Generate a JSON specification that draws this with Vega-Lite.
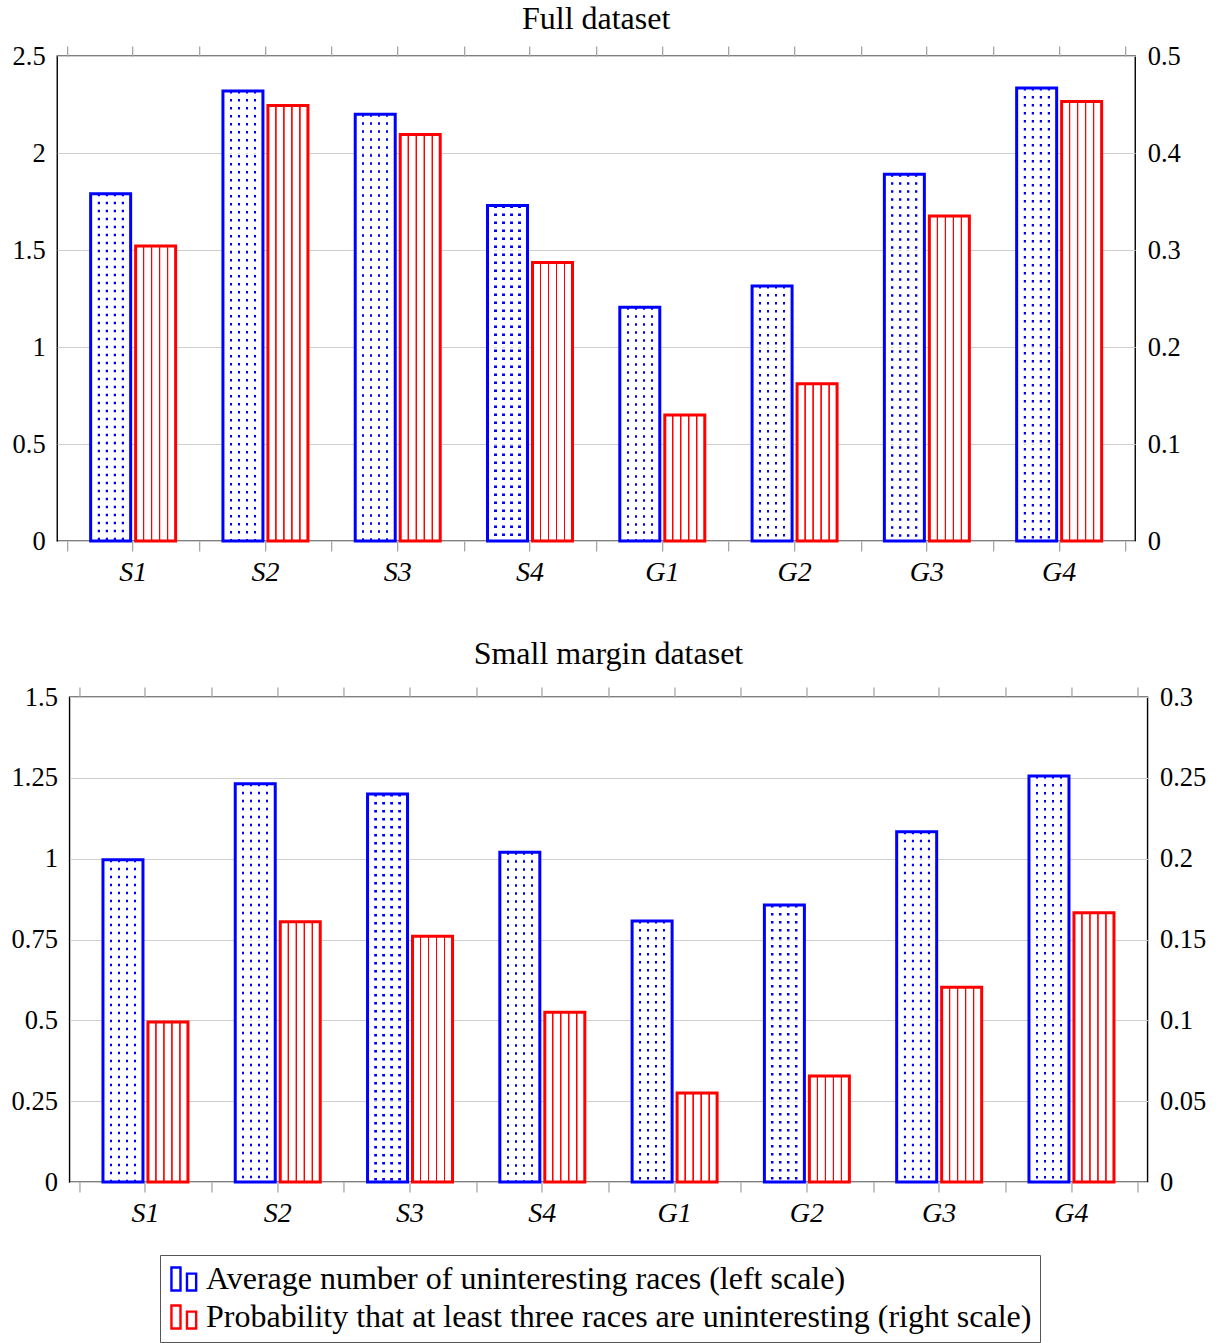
{
  "$schema": "https://vega.github.io/schema/vega-lite/v6.json",
  "padding": {"left": 10, "top": 2, "right": 0, "bottom": 0},
  "background": "white",
  "data": {"values": [
    {"panel": "full", "cat": "S1", "avg": 1.79, "prob": 0.304},
    {"panel": "full", "cat": "S2", "avg": 2.32, "prob": 0.449},
    {"panel": "full", "cat": "S3", "avg": 2.2, "prob": 0.419},
    {"panel": "full", "cat": "S4", "avg": 1.73, "prob": 0.287},
    {"panel": "full", "cat": "G1", "avg": 1.205, "prob": 0.13},
    {"panel": "full", "cat": "G2", "avg": 1.315, "prob": 0.162},
    {"panel": "full", "cat": "G3", "avg": 1.89, "prob": 0.335},
    {"panel": "full", "cat": "G4", "avg": 2.335, "prob": 0.453},
    {"panel": "small", "cat": "S1", "avg": 0.997, "prob": 0.099},
    {"panel": "small", "cat": "S2", "avg": 1.232, "prob": 0.161},
    {"panel": "small", "cat": "S3", "avg": 1.2, "prob": 0.152},
    {"panel": "small", "cat": "S4", "avg": 1.02, "prob": 0.105},
    {"panel": "small", "cat": "G1", "avg": 0.807, "prob": 0.055},
    {"panel": "small", "cat": "G2", "avg": 0.857, "prob": 0.0655},
    {"panel": "small", "cat": "G3", "avg": 1.083, "prob": 0.1205},
    {"panel": "small", "cat": "G4", "avg": 1.256, "prob": 0.1665}
  ]},
  "vconcat": [
    {
      "title": {"text": "Full dataset", "offset": 7},
      "width": 1078,
      "height": 485,
      "transform": [{"filter": "datum.panel === 'full'"}],
      "layer": [
        {
          "mark": {"type": "rule", "strokeWidth": 38, "color": "#0000ff", "strokeDash": [2.5, 5.5]},
          "encoding": {
            "x": {"field": "cat", "type": "nominal", "sort": null, "scale": {"paddingInner": 0, "paddingOuter": 0.0745},
              "axis": {"orient": "bottom", "title": null, "labelFontStyle": "italic", "labelFontSize": 28, "tickSize": 10, "tickBand": "center", "labelPadding": 7, "labelAngle": 0, "grid": false}},
            "xOffset": {"datum": "avg", "scale": {"domain": ["avg", "prob"], "paddingInner": 0.111, "paddingOuter": 0.5255}},
            "y": {"field": "avg", "type": "quantitative", "scale": {"domain": [0, 2.5], "nice": false, "zero": true},
              "axis": {"orient": "left", "title": null, "values": [0, 0.5, 1, 1.5, 2, 2.5], "labelExpr": "'' + datum.value", "ticks": false, "labelPadding": 12, "grid": true}},
            "y2": {"datum": 0}
          }
        },
        {
          "mark": {"type": "bar", "strokeWidth": 3, "fill": {"gradient": "linear", "x1": 0, "y1": 0, "x2": 1, "y2": 0, "stops": [
            {"offset": 0, "color": "#ffffff"}, {"offset": 0.17, "color": "#ffffff"}, {"offset": 0.175, "color": "rgba(255,255,255,0)"}, {"offset": 0.225, "color": "rgba(255,255,255,0)"}, {"offset": 0.23, "color": "#ffffff"},
            {"offset": 0.37, "color": "#ffffff"}, {"offset": 0.375, "color": "rgba(255,255,255,0)"}, {"offset": 0.425, "color": "rgba(255,255,255,0)"}, {"offset": 0.43, "color": "#ffffff"},
            {"offset": 0.57, "color": "#ffffff"}, {"offset": 0.575, "color": "rgba(255,255,255,0)"}, {"offset": 0.625, "color": "rgba(255,255,255,0)"}, {"offset": 0.63, "color": "#ffffff"},
            {"offset": 0.77, "color": "#ffffff"}, {"offset": 0.775, "color": "rgba(255,255,255,0)"}, {"offset": 0.825, "color": "rgba(255,255,255,0)"}, {"offset": 0.83, "color": "#ffffff"},
            {"offset": 1, "color": "#ffffff"}]}},
          "encoding": {
            "x": {"field": "cat", "type": "nominal", "sort": null,
              "axis": {"orient": "top", "title": null, "labels": false, "tickSize": 10, "tickBand": "center", "grid": false}},
            "xOffset": {"datum": "avg"},
            "y": {"field": "avg", "type": "quantitative", "scale": {"domain": [0, 2.5], "nice": false, "zero": true}, "axis": null},
            "stroke": {"datum": "Average number of uninteresting races (left scale)",
              "scale": {"domain": ["Average number of uninteresting races (left scale)", "Probability that at least three races are uninteresting (right scale)"], "range": ["#0000ff", "#ff0000"]},
              "legend": {"title": null, "orient": "none", "legendX": 103, "legendY": 1199}}
          }
        },
        {
          "mark": {"type": "bar", "strokeWidth": 3, "fill": {"gradient": "linear", "x1": 0, "y1": 0, "x2": 1, "y2": 0, "stops": [
            {"offset": 0, "color": "#ffffff"}, {"offset": 0.175, "color": "#ffffff"}, {"offset": 0.19, "color": "#ff0000"}, {"offset": 0.21, "color": "#ff0000"}, {"offset": 0.225, "color": "#ffffff"},
            {"offset": 0.375, "color": "#ffffff"}, {"offset": 0.39, "color": "#ff0000"}, {"offset": 0.41, "color": "#ff0000"}, {"offset": 0.425, "color": "#ffffff"},
            {"offset": 0.575, "color": "#ffffff"}, {"offset": 0.59, "color": "#ff0000"}, {"offset": 0.61, "color": "#ff0000"}, {"offset": 0.625, "color": "#ffffff"},
            {"offset": 0.775, "color": "#ffffff"}, {"offset": 0.79, "color": "#ff0000"}, {"offset": 0.81, "color": "#ff0000"}, {"offset": 0.825, "color": "#ffffff"},
            {"offset": 1, "color": "#ffffff"}]}},
          "encoding": {
            "x": {"field": "cat", "type": "nominal", "sort": null,
              "axis": {"orient": "bottom", "title": null, "labels": false, "tickSize": 10, "tickBand": "extent", "grid": false}},
            "xOffset": {"datum": "prob"},
            "y": {"field": "prob", "type": "quantitative", "scale": {"domain": [0, 0.5], "nice": false, "zero": true},
              "axis": {"orient": "right", "title": null, "values": [0, 0.1, 0.2, 0.3, 0.4, 0.5], "labelExpr": "'' + datum.value", "ticks": false, "labelPadding": 12, "grid": false, "minExtent": 83}},
            "stroke": {"datum": "Probability that at least three races are uninteresting (right scale)"}
          }
        },
        {
          "mark": {"type": "bar", "opacity": 0},
          "encoding": {
            "x": {"field": "cat", "type": "nominal", "sort": null,
              "axis": {"orient": "top", "title": null, "labels": false, "tickSize": 10, "tickBand": "extent", "grid": false}},
            "xOffset": {"datum": "avg"},
            "y": {"field": "avg", "type": "quantitative", "scale": {"domain": [0, 2.5], "nice": false}, "axis": null}
          }
        }
      ],
      "resolve": {"scale": {"y": "independent"}, "axis": {"x": "independent", "y": "independent"}}
    },
    {
      "title": {"text": "Small margin dataset", "offset": 13},
      "width": 1078,
      "height": 485,
      "transform": [{"filter": "datum.panel === 'small'"}],
      "layer": [
        {
          "mark": {"type": "rule", "strokeWidth": 38, "color": "#0000ff", "strokeDash": [2.5, 5.5]},
          "encoding": {
            "x": {"field": "cat", "type": "nominal", "sort": null, "scale": {"paddingInner": 0, "paddingOuter": 0.0745},
              "axis": {"orient": "bottom", "title": null, "labelFontStyle": "italic", "labelFontSize": 28, "tickSize": 10, "tickBand": "center", "labelPadding": 7, "labelAngle": 0, "grid": false}},
            "xOffset": {"datum": "avg", "scale": {"domain": ["avg", "prob"], "paddingInner": 0.111, "paddingOuter": 0.5255}},
            "y": {"field": "avg", "type": "quantitative", "scale": {"domain": [0, 1.5], "nice": false, "zero": true},
              "axis": {"orient": "left", "title": null, "values": [0, 0.25, 0.5, 0.75, 1, 1.25, 1.5], "labelExpr": "'' + datum.value", "ticks": false, "labelPadding": 12, "grid": true}},
            "y2": {"datum": 0}
          }
        },
        {
          "mark": {"type": "bar", "strokeWidth": 3, "fill": {"gradient": "linear", "x1": 0, "y1": 0, "x2": 1, "y2": 0, "stops": [
            {"offset": 0, "color": "#ffffff"}, {"offset": 0.17, "color": "#ffffff"}, {"offset": 0.175, "color": "rgba(255,255,255,0)"}, {"offset": 0.225, "color": "rgba(255,255,255,0)"}, {"offset": 0.23, "color": "#ffffff"},
            {"offset": 0.37, "color": "#ffffff"}, {"offset": 0.375, "color": "rgba(255,255,255,0)"}, {"offset": 0.425, "color": "rgba(255,255,255,0)"}, {"offset": 0.43, "color": "#ffffff"},
            {"offset": 0.57, "color": "#ffffff"}, {"offset": 0.575, "color": "rgba(255,255,255,0)"}, {"offset": 0.625, "color": "rgba(255,255,255,0)"}, {"offset": 0.63, "color": "#ffffff"},
            {"offset": 0.77, "color": "#ffffff"}, {"offset": 0.775, "color": "rgba(255,255,255,0)"}, {"offset": 0.825, "color": "rgba(255,255,255,0)"}, {"offset": 0.83, "color": "#ffffff"},
            {"offset": 1, "color": "#ffffff"}]}},
          "encoding": {
            "x": {"field": "cat", "type": "nominal", "sort": null,
              "axis": {"orient": "top", "title": null, "labels": false, "tickSize": 10, "tickBand": "center", "grid": false}},
            "xOffset": {"datum": "avg"},
            "y": {"field": "avg", "type": "quantitative", "scale": {"domain": [0, 1.5], "nice": false, "zero": true}, "axis": null},
            "stroke": {"datum": "Average number of uninteresting races (left scale)"}
          }
        },
        {
          "mark": {"type": "bar", "strokeWidth": 3, "fill": {"gradient": "linear", "x1": 0, "y1": 0, "x2": 1, "y2": 0, "stops": [
            {"offset": 0, "color": "#ffffff"}, {"offset": 0.175, "color": "#ffffff"}, {"offset": 0.19, "color": "#ff0000"}, {"offset": 0.21, "color": "#ff0000"}, {"offset": 0.225, "color": "#ffffff"},
            {"offset": 0.375, "color": "#ffffff"}, {"offset": 0.39, "color": "#ff0000"}, {"offset": 0.41, "color": "#ff0000"}, {"offset": 0.425, "color": "#ffffff"},
            {"offset": 0.575, "color": "#ffffff"}, {"offset": 0.59, "color": "#ff0000"}, {"offset": 0.61, "color": "#ff0000"}, {"offset": 0.625, "color": "#ffffff"},
            {"offset": 0.775, "color": "#ffffff"}, {"offset": 0.79, "color": "#ff0000"}, {"offset": 0.81, "color": "#ff0000"}, {"offset": 0.825, "color": "#ffffff"},
            {"offset": 1, "color": "#ffffff"}]}},
          "encoding": {
            "x": {"field": "cat", "type": "nominal", "sort": null,
              "axis": {"orient": "bottom", "title": null, "labels": false, "tickSize": 10, "tickBand": "extent", "grid": false}},
            "xOffset": {"datum": "prob"},
            "y": {"field": "prob", "type": "quantitative", "scale": {"domain": [0, 0.3], "nice": false, "zero": true},
              "axis": {"orient": "right", "title": null, "values": [0, 0.05, 0.1, 0.15, 0.2, 0.25, 0.3], "labelExpr": "'' + datum.value", "ticks": false, "labelPadding": 12, "grid": false}},
            "stroke": {"datum": "Probability that at least three races are uninteresting (right scale)"}
          }
        },
        {
          "mark": {"type": "bar", "opacity": 0},
          "encoding": {
            "x": {"field": "cat", "type": "nominal", "sort": null,
              "axis": {"orient": "top", "title": null, "labels": false, "tickSize": 10, "tickBand": "extent", "grid": false}},
            "xOffset": {"datum": "avg"},
            "y": {"field": "avg", "type": "quantitative", "scale": {"domain": [0, 1.5], "nice": false}, "axis": null}
          }
        }
      ],
      "resolve": {"scale": {"y": "independent"}, "axis": {"x": "independent", "y": "independent"}}
    }
  ],
  "spacing": 50,
  "center": true,
  "config": {
    "font": "Liberation Serif",
    "view": {"stroke": "#000000", "strokeWidth": 1.4},
    "axis": {"labelFont": "Liberation Serif", "labelFontSize": 26.5, "labelColor": "#000000", "domain": false, "tickColor": "#a6a6a6", "tickWidth": 1.3, "gridColor": "#cfcfcf", "gridWidth": 1.2},
    "title": {"font": "Liberation Serif", "fontSize": 32, "fontWeight": "normal", "color": "#000000", "anchor": "middle"},
    "legend": {"direction": "vertical", "labelFont": "Liberation Serif", "labelFontSize": 32, "labelColor": "#000000", "labelLimit": 0, "labelOffset": 6,
      "symbolType": "M-0.93,-0.85H-0.26V0.85H-0.93Z M0.22,-0.4H0.9V0.85H0.22Z", "symbolSize": 729, "symbolStrokeWidth": 2.4, "symbolFillColor": "#ffffff",
      "strokeColor": "#555555", "padding": 8, "rowPadding": 4}
  }
}
